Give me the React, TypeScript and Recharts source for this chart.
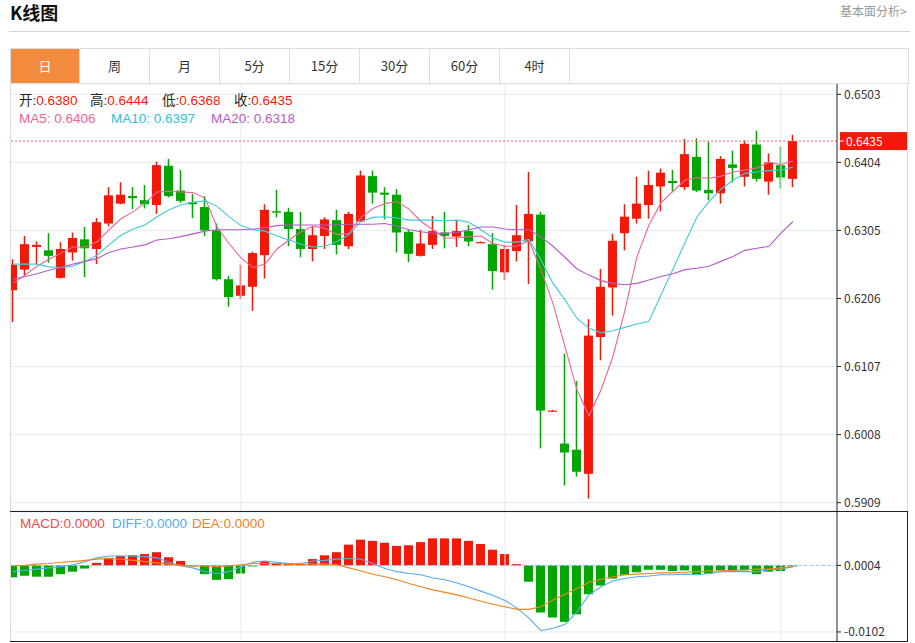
import React from "react";
import { ComposedChart, Bar, Line, XAxis, YAxis, CartesianGrid, ReferenceLine } from "recharts";

// ---------------- data ----------------
const OPEN = [
  0.6218, 0.6248, 0.6281, 0.6276, 0.6236, 0.6273, 0.6292, 0.6278, 0.6315, 0.6344,
  0.6355, 0.6349, 0.6342, 0.6399, 0.6363, 0.6346, 0.6339, 0.6305, 0.6234, 0.6210,
  0.6223, 0.6269, 0.6333, 0.6332, 0.6307, 0.6278, 0.6297, 0.6320, 0.6282, 0.6318,
  0.6384, 0.6360, 0.6357, 0.6303, 0.6268, 0.6284, 0.6302, 0.6296, 0.6304, 0.6288,
  0.6285, 0.6244, 0.6275, 0.6289, 0.6328, 0.6043, 0.5995, 0.5986, 0.5951, 0.6150,
  0.6222, 0.6301, 0.6322, 0.6342, 0.6369, 0.6377, 0.6368, 0.6412, 0.6364, 0.6359,
  0.6401, 0.6383, 0.6430, 0.6376, 0.6400, 0.6380,
];
const HIGH = [
  0.6263, 0.6297, 0.6289, 0.6301, 0.6288, 0.6302, 0.6310, 0.6323, 0.6368, 0.6375,
  0.6368, 0.6371, 0.6405, 0.6409, 0.6393, 0.6358, 0.6355, 0.6315, 0.6239, 0.6255,
  0.6274, 0.6343, 0.6364, 0.6338, 0.6332, 0.6311, 0.6324, 0.6335, 0.6332, 0.6392,
  0.6392, 0.6368, 0.6365, 0.6306, 0.6306, 0.6326, 0.6332, 0.6319, 0.6313, 0.6289,
  0.6301, 0.6284, 0.6342, 0.6390, 0.6332, 0.6044, 0.6126, 0.6086, 0.6176, 0.6249,
  0.6300, 0.6343, 0.6383, 0.6392, 0.6395, 0.6393, 0.6438, 0.6439, 0.6434, 0.6413,
  0.6421, 0.6436, 0.6450, 0.6417, 0.6427, 0.6444,
];
const LOW = [
  0.6172, 0.6240, 0.6256, 0.6258, 0.6235, 0.6261, 0.6237, 0.6256, 0.6311, 0.6343,
  0.6336, 0.6337, 0.6329, 0.6353, 0.6345, 0.6323, 0.6297, 0.6232, 0.6194, 0.6205,
  0.6188, 0.6235, 0.6324, 0.6282, 0.6266, 0.6260, 0.6278, 0.6270, 0.6278, 0.6317,
  0.6344, 0.6321, 0.6273, 0.6259, 0.6267, 0.6278, 0.6279, 0.6281, 0.6282, 0.6287,
  0.6219, 0.6233, 0.6260, 0.6227, 0.5988, 0.6042, 0.5934, 0.5947, 0.5915, 0.6116,
  0.6181, 0.6276, 0.6315, 0.6322, 0.6333, 0.6362, 0.6364, 0.6361, 0.6349, 0.6344,
  0.6375, 0.6369, 0.6376, 0.6357, 0.6366, 0.6368,
];
const CLOSE = [
  0.6255, 0.6285, 0.6284, 0.6268, 0.6278, 0.6294, 0.6279, 0.6317, 0.6356, 0.6357,
  0.6352, 0.6343, 0.6400, 0.6355, 0.6348, 0.6343, 0.6305, 0.6234, 0.6208, 0.6225,
  0.6272, 0.6335, 0.6331, 0.6307, 0.6278, 0.6298, 0.6321, 0.6284, 0.6329, 0.6385,
  0.6360, 0.6357, 0.6302, 0.6271, 0.6286, 0.6304, 0.6297, 0.6304, 0.6289, 0.6288,
  0.6246, 0.6278, 0.6298, 0.6329, 0.6043, 0.6043, 0.5982, 0.5954, 0.6152, 0.6223,
  0.6290, 0.6325, 0.6344, 0.6371, 0.6389, 0.6374, 0.6416, 0.6363, 0.6359, 0.6409,
  0.6396, 0.6431, 0.6380, 0.6404, 0.6382, 0.6435,
];
const MA5 = [
  0.6228, 0.6240, 0.6253, 0.6263, 0.6272, 0.6281, 0.6281, 0.6288, 0.6306, 0.6322,
  0.6332, 0.6345, 0.6361, 0.6362, 0.6361, 0.6360, 0.6352, 0.6310, 0.6286, 0.6265,
  0.6251, 0.6256, 0.6278, 0.6291, 0.6303, 0.6311, 0.6308, 0.6299, 0.6301, 0.6324,
  0.6337, 0.6344, 0.6347, 0.6336, 0.6318, 0.6306, 0.6294, 0.6294, 0.6296, 0.6297,
  0.6286, 0.6282, 0.6282, 0.6290, 0.6248, 0.6199, 0.6136, 0.6073, 0.6035, 0.6073,
  0.6122, 0.6189, 0.6267, 0.6313, 0.6345, 0.6362, 0.6378, 0.6382, 0.6381, 0.6384,
  0.6390, 0.6393, 0.6396, 0.6404, 0.6401, 0.6406,
];
const MA10 = [
  0.6256, 0.6256, 0.6256, 0.6252, 0.6251, 0.6253, 0.6260, 0.6269, 0.6284, 0.6298,
  0.6307, 0.6313, 0.6325, 0.6335, 0.6342, 0.6346, 0.6348, 0.6340, 0.6325, 0.6312,
  0.6306, 0.6304, 0.6297, 0.6291, 0.6285, 0.6281, 0.6282, 0.6289, 0.6299, 0.6318,
  0.6324, 0.6325, 0.6323, 0.6320, 0.6320, 0.6320, 0.6319, 0.6320, 0.6317, 0.6306,
  0.6294, 0.6288, 0.6288, 0.6292, 0.6262, 0.6228, 0.6204, 0.6177, 0.6163, 0.6156,
  0.6159, 0.6164, 0.6169, 0.6173, 0.6211, 0.6249, 0.6287, 0.6325, 0.6347, 0.6365,
  0.6378, 0.6388, 0.6390, 0.6392, 0.6393, 0.6397,
];
const MA20 = [
  0.6234, 0.6238, 0.6242, 0.6247, 0.6251, 0.6256, 0.6260, 0.6264, 0.6273, 0.6278,
  0.6281, 0.6284, 0.6291, 0.6293, 0.6296, 0.6300, 0.6304, 0.6306, 0.6306, 0.6306,
  0.6307, 0.6309, 0.6312, 0.6313, 0.6313, 0.6313, 0.6313, 0.6313, 0.6314, 0.6314,
  0.6314, 0.6315, 0.6311, 0.6306, 0.6303, 0.6301, 0.6301, 0.6302, 0.6306, 0.6310,
  0.6310, 0.6307, 0.6306, 0.6306, 0.6296, 0.6282, 0.6266, 0.6249, 0.6240, 0.6232,
  0.6228, 0.6226, 0.6228, 0.6233, 0.6238, 0.6242, 0.6248, 0.6250, 0.6253, 0.6260,
  0.6267, 0.6276, 0.6279, 0.6282, 0.6301, 0.6318,
];
const HIST = [
  -0.0015, -0.00125, -0.0014, -0.0014, -0.0010, -0.0006, -0.0001, 0.0008, 0.0016, 0.0019,
  0.0020, 0.0022, 0.0025, 0.0017, 0.0011, 0.0003, -0.0010, -0.0019, -0.0018, -0.0009,
  0.0003, 0.0011, 0.0008, 0.0007, 0.0006, 0.0014, 0.0020, 0.0025, 0.0037, 0.0045,
  0.0043, 0.0040, 0.0035, 0.0036, 0.0041, 0.0047, 0.0047, 0.0047, 0.0043, 0.0038,
  0.0029, 0.0022, 0.0006, -0.0022, -0.0071, -0.0079, -0.0086, -0.0074, -0.0042, -0.0028,
  -0.0017, -0.0011, -0.0007, -0.0003, -0.0003, -0.0005, -0.0004, -0.0010, -0.0009, -0.0004,
  -0.0005, -0.0004, -0.0010, -0.0006, -0.0005, 0.0003,
];
const DIFF = [
  -0.0006, -0.0004, -0.0002, 0.0000, 0.0002, 0.0005, 0.0010, 0.0016, 0.0019, 0.0019,
  0.0019, 0.0018, 0.0016, 0.0009, 0.0003, 0.0000, -0.0006, -0.0009, -0.0006, 0.0002,
  0.0009, 0.0011, 0.0009, 0.0007, 0.0007, 0.0011, 0.0012, 0.0014, 0.0015, 0.0014,
  0.0007, -0.0001, -0.0006, -0.0009, -0.0011, -0.0016, -0.0019, -0.0024, -0.0030, -0.0037,
  -0.0044, -0.0052, -0.0064, -0.0080, -0.0100, -0.0096, -0.0090, -0.0070, -0.0043, -0.0030,
  -0.0021, -0.0017, -0.0014, -0.0013, -0.0011, -0.0011, -0.0010, -0.0011, -0.0009, -0.0006,
  -0.0006, -0.0006, -0.0006, -0.0003, -0.0002, 0.0002,
];
const DEA = [
  0.0003, 0.0004, 0.0006, 0.0007, 0.0009, 0.0010, 0.0012, 0.0014, 0.0015, 0.0014,
  0.0012, 0.0010, 0.0008, 0.0006, 0.0004, 0.0003, 0.0003, 0.0002, 0.0003, 0.0005,
  0.0007, 0.0007, 0.0007, 0.0006, 0.0006, 0.0006, 0.0006, 0.0005, 0.0000, -0.0005,
  -0.0010, -0.0014, -0.0019, -0.0025, -0.0030, -0.0035, -0.0039, -0.0043, -0.0048, -0.0053,
  -0.0058, -0.0062, -0.0066, -0.0066, -0.0062, -0.0051, -0.0042, -0.0033, -0.0023, -0.0018,
  -0.0014, -0.0011, -0.0010, -0.0009, -0.0008, -0.0008, -0.0007, -0.0006, -0.0005, -0.0005,
  -0.0004, -0.0003, -0.0002, -0.0002, 0.0000, 0.0002,
];
const MACD_BASE = 0.0004;
const PRICE_TICKS = [0.5909, 0.6008, 0.6107, 0.6206, 0.6305, 0.6404, 0.6503];
const MACD_TICKS = [-0.0102, 0.0004];
const GRID_X = [19, 41, 64];
const TABS = ["日", "周", "月", "5分", "15分", "30分", "60分", "4时"];
const MACD_LABELS = ["MACD:0.0000", "DIFF:0.0000", "DEA:0.0000"];

// ---------------- style ----------------
const RED = "#f3190a";
const GREEN = "#01a601";
const C_MA5 = "#ef6495";
const C_MA10 = "#3fc9de";
const C_MA20 = "#b45bc9";
const C_DIFF = "#55a9f0";
const C_DEA = "#f5801e";
const GRID = "#e2eaf2";
const FONT = '"Noto Sans CJK SC", "Noto Sans", sans-serif';
const FONT_LEG = '"Liberation Sans", "Noto Sans CJK SC", sans-serif';

const rows = OPEN.map((o, i) => ({
  i,
  open: o,
  high: HIGH[i],
  low: LOW[i],
  close: CLOSE[i],
  ma5: MA5[i],
  ma10: MA10[i],
  ma20: MA20[i],
  hist: HIST[i],
  diff: DIFF[i],
  dea: DEA[i],
}));
const last = rows.length - 1;
const X_DOMAIN: [number, number] = [-0.25, 68.67];

const Candle = (props: any) => {
  const { x, y, width, height, payload } = props;
  if (x == null || y == null) return null;
  const top = Math.min(y, y + height);
  const bot = Math.max(y, y + height);
  const span = payload.high - payload.low;
  const k = span > 0 ? (bot - top) / span : 0;
  const yO = top + (payload.high - payload.open) * k;
  const yC = top + (payload.high - payload.close) * k;
  const up = payload.close >= payload.open;
  const color = up ? RED : GREEN;
  const cx = x + width / 2;
  const bTop = Math.min(yO, yC);
  const bH = Math.max(Math.abs(yO - yC), 1.2);
  return (
    <g>
      <rect x={cx - 0.75} y={top} width={1.5} height={Math.max(bot - top, 1)} fill={color} />
      <rect x={x} y={bTop} width={width} height={bH} fill={color} />
    </g>
  );
};

const HistBar = (props: any) => {
  const { x, y, width, height, payload } = props;
  if (x == null || y == null) return null;
  const top = Math.min(y, y + height);
  const h = Math.max(Math.abs(height), 1);
  return <rect x={x} y={top} width={width} height={h} fill={payload.hist >= MACD_BASE ? RED : GREEN} />;
};

const PriceTag = (props: any) => {
  const vb = props.viewBox || {};
  const xr = (vb.x || 0) + (vb.width || 0);
  const yy = vb.y || 0;
  return (
    <g>
      <rect x={xr + 3} y={yy - 9} width={68} height={18} fill={RED} />
      <line x1={xr + 3} x2={xr + 7} y1={yy} y2={yy} stroke="#fff" />
      <text x={xr + 9} y={yy + 4.5} fill="#fff" fontSize={12} fontFamily={FONT}>
        {props.text}
      </text>
    </g>
  );
};

const abs = (l: number, t: number, extra: React.CSSProperties = {}): React.CSSProperties => ({
  position: "absolute",
  left: l,
  top: t,
  ...extra,
});

const LEG: React.CSSProperties = { fontSize: 13.5, lineHeight: "15px", whiteSpace: "nowrap", fontFamily: FONT_LEG };

export default function App() {
  return (
    <div style={{ position: "relative", width: 915, height: 643, fontFamily: FONT, background: "#fff", overflow: "hidden" }}>
      <style>{"body{margin:0;}"}</style>
      {/* header */}
      <div style={abs(10, 0, { fontSize: 18, fontWeight: "bold", color: "#111", lineHeight: "24px" })}>K线图</div>
      <div style={abs(840, 3, { fontSize: 12, color: "#999", lineHeight: "16px" })}>基本面分析&gt;</div>
      <div style={abs(9, 31, { width: 901, height: 1, background: "#d2d2d2" })} />

      {/* tabs */}
      <div style={abs(10, 48, { width: 897, height: 34, border: "1px solid #dedede", borderBottom: "1px solid #e4e4e4" })} />
      {TABS.map((t, k) => (
        <div
          key={t}
          style={abs(10 + k * 70, 48, {
            width: 70,
            height: 35,
            boxSizing: "border-box",
            borderRight: "1px solid #dedede",
            borderTop: "1px solid #dedede",
            borderLeft: k === 0 ? "1px solid #dedede" : "none",
            background: k === 0 ? "#f28b3e" : "transparent",
            color: k === 0 ? "#fff" : "#333",
            fontSize: 13,
            textAlign: "center",
            lineHeight: "34px",
          })}
        >
          {t}
        </div>
      ))}

      {/* main chart */}
      <div style={abs(10, 84)}>
        <ComposedChart width={898} height={427} data={rows} margin={{ top: 0, right: 0, bottom: 0, left: 0 }}>
          <CartesianGrid horizontal vertical={false} stroke={GRID} />
          <XAxis dataKey="i" type="number" domain={X_DOMAIN} hide />
          <YAxis
            orientation="right"
            width={71}
            domain={[0.58969, 0.6518]}
            ticks={PRICE_TICKS}
            interval={0}
            tickFormatter={(v: number) => v.toFixed(4)}
            axisLine={{ stroke: "#222" }}
            tickLine={{ stroke: "#222" }}
            tickSize={4}
            tickMargin={3}
            tick={{ fill: "#333", fontSize: 12, fontFamily: FONT }}
          />
          {GRID_X.map((gx) => (
            <ReferenceLine key={gx} x={gx} stroke={GRID} />
          ))}
          <Bar dataKey={(d: any) => [d.low, d.high]} barSize={9} shape={<Candle />} isAnimationActive={false} />
          <Line dataKey="ma5" type="linear" stroke={C_MA5} strokeWidth={1.1} dot={false} isAnimationActive={false} />
          <Line dataKey="ma10" type="linear" stroke={C_MA10} strokeWidth={1.1} dot={false} isAnimationActive={false} />
          <Line dataKey="ma20" type="linear" stroke={C_MA20} strokeWidth={1.1} dot={false} isAnimationActive={false} />
          <ReferenceLine
            y={CLOSE[last]}
            stroke="#f46060"
            strokeDasharray="2 2"
            label={<PriceTag text={CLOSE[last].toFixed(4)} />}
          />
        </ComposedChart>
      </div>

      {/* main legend */}
      <div style={abs(19, 93, { ...LEG, color: "#222" })}>
        开:<span style={{ color: RED }}>{OPEN[last].toFixed(4)}</span>
      </div>
      <div style={abs(90, 93, { ...LEG, color: "#222" })}>
        高:<span style={{ color: RED }}>{HIGH[last].toFixed(4)}</span>
      </div>
      <div style={abs(162, 93, { ...LEG, color: "#222" })}>
        低:<span style={{ color: RED }}>{LOW[last].toFixed(4)}</span>
      </div>
      <div style={abs(234, 93, { ...LEG, color: "#222" })}>
        收:<span style={{ color: RED }}>{CLOSE[last].toFixed(4)}</span>
      </div>
      <div style={abs(19, 111, { ...LEG, color: C_MA5 })}>MA5: {MA5[last].toFixed(4)}</div>
      <div style={abs(111, 111, { ...LEG, color: "#2fc2da" })}>MA10: {MA10[last].toFixed(4)}</div>
      <div style={abs(211, 111, { ...LEG, color: C_MA20 })}>MA20: {MA20[last].toFixed(4)}</div>

      {/* MACD chart */}
      <div style={abs(10, 512)}>
        <ComposedChart width={898} height={130} data={rows} margin={{ top: 0, right: 0, bottom: 0, left: 0 }}>
          <CartesianGrid horizontal vertical={false} stroke={GRID} />
          <XAxis dataKey="i" type="number" domain={X_DOMAIN} hide />
          <YAxis
            orientation="right"
            width={71}
            domain={[-0.0118, 0.0089]}
            ticks={MACD_TICKS}
            interval={0}
            tickFormatter={(v: number) => v.toFixed(4)}
            axisLine={{ stroke: "#222" }}
            tickLine={{ stroke: "#222" }}
            tickSize={4}
            tickMargin={3}
            tick={{ fill: "#333", fontSize: 12, fontFamily: FONT }}
          />
          {GRID_X.map((gx) => (
            <ReferenceLine key={gx} x={gx} stroke={GRID} />
          ))}
          <ReferenceLine y={MACD_BASE} stroke="#9ccbee" strokeDasharray="3 3" />
          <Bar dataKey={(d: any) => [MACD_BASE, d.hist]} barSize={9} shape={<HistBar />} isAnimationActive={false} />
          <Line dataKey="diff" type="linear" stroke={C_DIFF} strokeWidth={1.1} dot={false} isAnimationActive={false} />
          <Line dataKey="dea" type="linear" stroke={C_DEA} strokeWidth={1.1} dot={false} isAnimationActive={false} />
        </ComposedChart>
      </div>
      <div style={abs(20, 516, { ...LEG, color: "#f04a4a" })}>{MACD_LABELS[0]}</div>
      <div style={abs(112, 516, { ...LEG, color: C_DIFF })}>{MACD_LABELS[1]}</div>
      <div style={abs(192, 516, { ...LEG, color: C_DEA })}>{MACD_LABELS[2]}</div>

      {/* frames */}
      <div style={abs(10, 83, { width: 1, height: 559, background: "#dcdcdc" })} />
      <div style={abs(907, 83, { width: 1, height: 429, background: "#dcdcdc" })} />
      <div style={abs(10, 511, { width: 898, height: 1, background: "#222" })} />
      <div style={abs(10, 641, { width: 898, height: 1, background: "#222" })} />
      <div style={abs(907, 511, { width: 1, height: 131, background: "#222" })} />
    </div>
  );
}
